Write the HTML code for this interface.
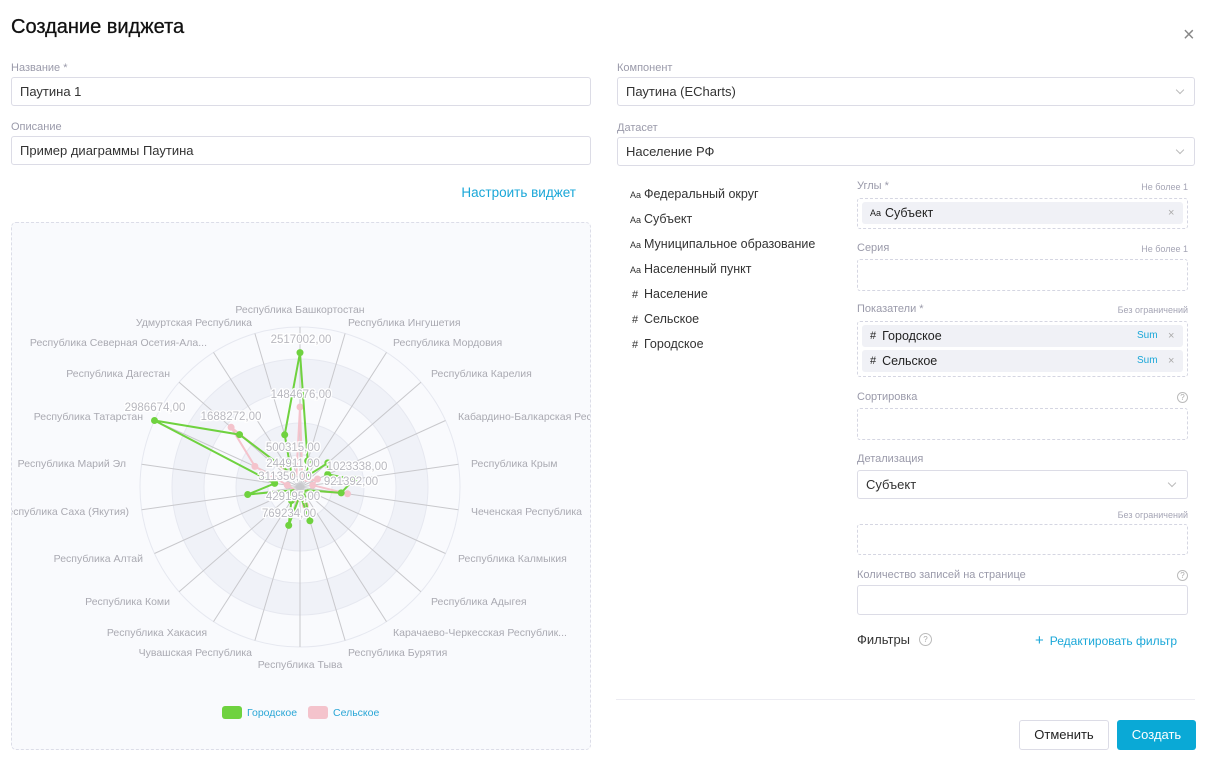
<!DOCTYPE html>
<html><head><meta charset="utf-8">
<style>
*{box-sizing:border-box;margin:0;padding:0}
body{width:1212px;height:762px;background:#fff;font-family:"Liberation Sans",sans-serif;position:relative;overflow:hidden;color:#222}
.a{position:absolute;white-space:nowrap}
.lbl{font-size:11px;color:#9a9aaa}
.hint{font-size:9px;color:#a5a5b5}
.inp{position:absolute;border:1px solid #dcdce6;border-radius:3px;background:#fff;font-size:13px;color:#333;padding-left:8px;display:flex;align-items:center}
.dash{position:absolute;border:1px dashed #d5d6e2;border-radius:3px}
.chip{position:absolute;background:#f0f1f6;border-radius:3px;font-size:12.5px;color:#222;display:flex;align-items:center;padding-left:8px}
.x{position:absolute;font-size:11px;color:#aaa}
.sum{position:absolute;font-size:10px;color:#1aa7d8}
.fl{position:absolute;left:630px;font-size:12.5px;color:#333}
.fl b{font-weight:normal;font-size:9px;display:inline-block;width:14px}
.q{position:absolute;width:11px;height:11px;border:1px solid #bbb;border-radius:50%;font-size:8px;color:#aaa;text-align:center;line-height:9px}
.chev{position:absolute;width:6px;height:6px;border-right:1px solid #bbb;border-bottom:1px solid #bbb;transform:rotate(45deg)}
</style></head><body>
<div class="a" style="left:11px;top:16px;font-size:20px;font-weight:500;color:#111;-webkit-text-stroke:0.3px #111">Создание виджета</div>
<div class="a" style="left:1183px;top:24px;font-size:20px;color:#888;font-weight:300">×</div>

<div class="a lbl" style="left:11px;top:62px">Название *</div>
<div class="inp" style="left:11px;top:77px;width:580px;height:29px">Паутина 1</div>
<div class="a lbl" style="left:11px;top:121px">Описание</div>
<div class="inp" style="left:11px;top:136px;width:580px;height:29px">Пример диаграммы Паутина</div>
<div class="a" style="right:636px;top:185px;font-size:13.5px;color:#1aa7d8;font-weight:500">Настроить виджет</div>

<div class="a lbl" style="left:617px;top:62px">Компонент</div>
<div class="inp" style="left:617px;top:77px;width:578px;height:29px">Паутина (ECharts)</div>
<div class="chev" style="left:1177px;top:87px"></div>
<div class="a lbl" style="left:617px;top:122px">Датасет</div>
<div class="inp" style="left:617px;top:137px;width:578px;height:29px">Население РФ</div>
<div class="chev" style="left:1177px;top:147px"></div>

<div class="fl" style="top:187px"><b>Aa</b>Федеральный округ</div>
<div class="fl" style="top:212px"><b>Aa</b>Субъект</div>
<div class="fl" style="top:237px"><b>Aa</b>Муниципальное образование</div>
<div class="fl" style="top:262px"><b>Aa</b>Населенный пункт</div>
<div class="fl" style="top:287px"><b style="font-size:11px;padding-left:2px">#</b>Население</div>
<div class="fl" style="top:312px"><b style="font-size:11px;padding-left:2px">#</b>Сельское</div>
<div class="fl" style="top:337px"><b style="font-size:11px;padding-left:2px">#</b>Городское</div>

<div class="a lbl" style="left:857px;top:180px">Углы *</div>
<div class="a hint" style="right:24px;top:182px">Не более 1</div>
<div class="dash" style="left:857px;top:198px;width:331px;height:31px"></div>
<div class="chip" style="left:862px;top:202px;width:321px;height:22px"><span style="font-size:9px;margin-right:4px">Aa</span>Субъект</div>
<div class="x" style="left:1168px;top:207px">×</div>

<div class="a lbl" style="left:857px;top:242px">Серия</div>
<div class="a hint" style="right:24px;top:244px">Не более 1</div>
<div class="dash" style="left:857px;top:259px;width:331px;height:32px"></div>

<div class="a lbl" style="left:857px;top:303px">Показатели *</div>
<div class="a hint" style="right:24px;top:305px">Без ограничений</div>
<div class="dash" style="left:857px;top:321px;width:331px;height:56px"></div>
<div class="chip" style="left:862px;top:325px;width:321px;height:22px"><span style="font-size:11px;margin-right:6px">#</span>Городское</div>
<div class="sum" style="left:1137px;top:330px">Sum</div><div class="x" style="left:1168px;top:330px">×</div>
<div class="chip" style="left:862px;top:350px;width:321px;height:22px"><span style="font-size:11px;margin-right:6px">#</span>Сельское</div>
<div class="sum" style="left:1137px;top:355px">Sum</div><div class="x" style="left:1168px;top:355px">×</div>

<div class="a lbl" style="left:857px;top:391px">Сортировка</div>
<div class="q" style="left:1177px;top:392px">?</div>
<div class="dash" style="left:857px;top:408px;width:331px;height:32px"></div>

<div class="a lbl" style="left:857px;top:453px">Детализация</div>
<div class="inp" style="left:857px;top:470px;width:331px;height:29px">Субъект</div>
<div class="chev" style="left:1169px;top:480px"></div>
<div class="a hint" style="right:24px;top:510px">Без ограничений</div>
<div class="dash" style="left:857px;top:524px;width:331px;height:31px"></div>

<div class="a lbl" style="left:857px;top:569px">Количество записей на странице</div>
<div class="q" style="left:1177px;top:570px">?</div>
<div class="inp" style="left:857px;top:585px;width:331px;height:30px"></div>

<div class="a" style="left:857px;top:632px;font-size:13px;color:#333">Фильтры</div>
<div class="q" style="left:919px;top:633px;width:13px;height:13px;line-height:11px">?</div>
<div class="a" style="left:1035px;top:632px;font-size:12px;color:#1aa7d8"><span style="font-size:15px;margin-right:6px;font-weight:300">+</span>Редактировать фильтр</div>

<div class="a" style="left:616px;top:699px;width:579px;height:1px;background:#ececf2"></div>
<div class="a" style="left:1019px;top:720px;width:90px;height:30px;border:1px solid #dcdce6;border-radius:3px;font-size:13px;color:#222;text-align:center;line-height:28px">Отменить</div>
<div class="a" style="left:1117px;top:720px;width:79px;height:30px;background:#0aa9d6;border-radius:3px;font-size:13px;color:#fff;text-align:center;line-height:30px;font-weight:500">Создать</div>

<div class="a" style="left:11px;top:222px;width:580px;height:528px;border:1px dashed #dcdde8;border-radius:5px;background:#f9fafd;overflow:hidden">
<svg width="580" height="528" viewBox="11 222 580 528" style="position:absolute;left:-1px;top:-1px">
<g stroke="#e6e8f0" stroke-width="1">
<circle cx="300" cy="487" r="160" fill="#f9fafd"/>
<circle cx="300" cy="487" r="128" fill="#f0f2f8"/>
<circle cx="300" cy="487" r="96" fill="#f9fafd"/>
<circle cx="300" cy="487" r="64" fill="#f0f2f8"/>
<circle cx="300" cy="487" r="32" fill="#f9fafd"/>
</g>
<g stroke="#c8c8cc" stroke-width="1">
<line x1="300" y1="487" x2="300" y2="327"/><line x1="300" y1="487" x2="345.1" y2="333.5"/>
<line x1="300" y1="487" x2="386.5" y2="352.4"/><line x1="300" y1="487" x2="420.9" y2="382.2"/>
<line x1="300" y1="487" x2="445.5" y2="420.5"/><line x1="300" y1="487" x2="458.4" y2="464.2"/>
<line x1="300" y1="487" x2="458.4" y2="509.8"/><line x1="300" y1="487" x2="445.5" y2="553.5"/>
<line x1="300" y1="487" x2="420.9" y2="591.8"/><line x1="300" y1="487" x2="386.5" y2="621.6"/>
<line x1="300" y1="487" x2="345.1" y2="640.5"/><line x1="300" y1="487" x2="300" y2="647"/>
<line x1="300" y1="487" x2="254.9" y2="640.5"/><line x1="300" y1="487" x2="213.5" y2="621.6"/>
<line x1="300" y1="487" x2="179.1" y2="591.8"/><line x1="300" y1="487" x2="154.5" y2="553.5"/>
<line x1="300" y1="487" x2="141.6" y2="509.8"/><line x1="300" y1="487" x2="141.6" y2="464.2"/>
<line x1="300" y1="487" x2="154.5" y2="420.5"/><line x1="300" y1="487" x2="179.1" y2="382.2"/>
<line x1="300" y1="487" x2="213.5" y2="352.4"/><line x1="300" y1="487" x2="254.9" y2="333.5"/>
</g>
<g fill="#aaaab2" font-size="10.5" font-family="Liberation Sans,sans-serif">
<text x="300" y="313" text-anchor="middle">Республика Башкортостан</text>
<text x="348" y="326">Республика Ингушетия</text>
<text x="393" y="346">Республика Мордовия</text>
<text x="431" y="377">Республика Карелия</text>
<text x="458" y="420">Кабардино-Балкарская Республика</text>
<text x="471" y="467">Республика Крым</text>
<text x="471" y="515">Чеченская Республика</text>
<text x="458" y="562">Республика Калмыкия</text>
<text x="431" y="605">Республика Адыгея</text>
<text x="393" y="636">Карачаево-Черкесская Республик...</text>
<text x="348" y="656">Республика Бурятия</text>
<text x="300" y="668" text-anchor="middle">Республика Тыва</text>
<text x="252" y="656" text-anchor="end">Чувашская Республика</text>
<text x="207" y="636" text-anchor="end">Республика Хакасия</text>
<text x="170" y="605" text-anchor="end">Республика Коми</text>
<text x="143" y="562" text-anchor="end">Республика Алтай</text>
<text x="129" y="515" text-anchor="end">Республика Саха (Якутия)</text>
<text x="126" y="467" text-anchor="end">Республика Марий Эл</text>
<text x="143" y="420" text-anchor="end">Республика Татарстан</text>
<text x="170" y="377" text-anchor="end">Республика Дагестан</text>
<text x="207" y="346" text-anchor="end">Республика Северная Осетия-Ала...</text>
<text x="252" y="326" text-anchor="end">Удмуртская Республика</text>
</g>
<polygon fill="none" stroke="#f4c3cc" stroke-width="2" points="300,407 302.3,479.3 304.3,480.3 307.3,480.7 317.5,479 312.7,485.2 347.5,493.8 307.3,490.3 304.8,491.2 303.5,492.4 305.4,505.4 300,495 296.4,499.3 294,492.2 293,491.6 294.2,489.7 292.1,488.1 287.3,485.2 254.9,466.4 231.1,427.3 293.1,476.2 296.4,474.7"/>
<g fill="#f4c3cc">
<circle cx="300" cy="407" r="3.5"/><circle cx="317.5" cy="479" r="3.5"/><circle cx="347.5" cy="493.8" r="3.5"/><circle cx="305.4" cy="505.4" r="3.5"/><circle cx="296.4" cy="499.3" r="3.5"/><circle cx="287.3" cy="485.2" r="3.5"/><circle cx="254.9" cy="466.4" r="3.5"/><circle cx="231.1" cy="427.3" r="3.5"/><circle cx="312.7" cy="485.2" r="3.5"/><circle cx="293.1" cy="476.2" r="3.5"/>
</g>
<polygon fill="none" stroke="#6fd23f" stroke-width="2" points="300,352.6 307.7,460.9 306.9,476.2 327.8,462.9 327.7,474.4 353.8,479.3 341.2,492.9 307.3,490.3 304.8,491.2 304.3,493.7 309.9,520.8 300,495 288.7,525.4 291.4,500.5 287.9,497.5 292.7,490.3 247.7,494.5 274.7,483.4 154.5,420.5 239.5,434.6 291.4,473.5 284.7,434.8"/>
<g fill="#6fd23f">
<circle cx="300" cy="352.6" r="3.5"/><circle cx="307.7" cy="460.9" r="3.5"/><circle cx="327.8" cy="462.9" r="3.5"/><circle cx="327.7" cy="474.4" r="3.5"/><circle cx="353.8" cy="479.3" r="3.5"/><circle cx="341.2" cy="492.9" r="3.5"/><circle cx="309.9" cy="520.8" r="3.5"/><circle cx="300" cy="495" r="3.5"/><circle cx="288.7" cy="525.4" r="3.5"/><circle cx="291.4" cy="500.5" r="3.5"/><circle cx="247.7" cy="494.5" r="3.5"/><circle cx="274.7" cy="483.4" r="3.5"/><circle cx="154.5" cy="420.5" r="3.5"/><circle cx="239.5" cy="434.6" r="3.5"/><circle cx="284.7" cy="434.8" r="3.5"/>
</g>
<g fill="#b8b8bf" font-size="11.5" font-family="Liberation Sans,sans-serif" stroke="#fff" stroke-width="2.5" paint-order="stroke" text-anchor="middle">
<text x="301" y="343">2517002,00</text>
<text x="301" y="398">1484676,00</text>
<text x="155" y="411">2986674,00</text>
<text x="231" y="420">1688272,00</text>
<text x="293" y="451">500315,00</text>
<text x="293" y="467">244911,00</text>
<text x="285" y="480">311350,00</text>
<text x="357" y="470">1023338,00</text>
<text x="351" y="485">921392,00</text>
<text x="293" y="500">429195,00</text>
<text x="289" y="517">769234,00</text>
</g>
<rect x="222" y="706" width="20" height="13" rx="3" fill="#6fd23f"/>
<text x="247" y="716" font-size="10.5" fill="#2aa6d6" font-family="Liberation Sans,sans-serif">Городское</text>
<rect x="308" y="706" width="20" height="13" rx="3" fill="#f4c3cc"/>
<text x="333" y="716" font-size="10.5" fill="#2aa6d6" font-family="Liberation Sans,sans-serif">Сельское</text>
</svg>
</div>
</body></html>
